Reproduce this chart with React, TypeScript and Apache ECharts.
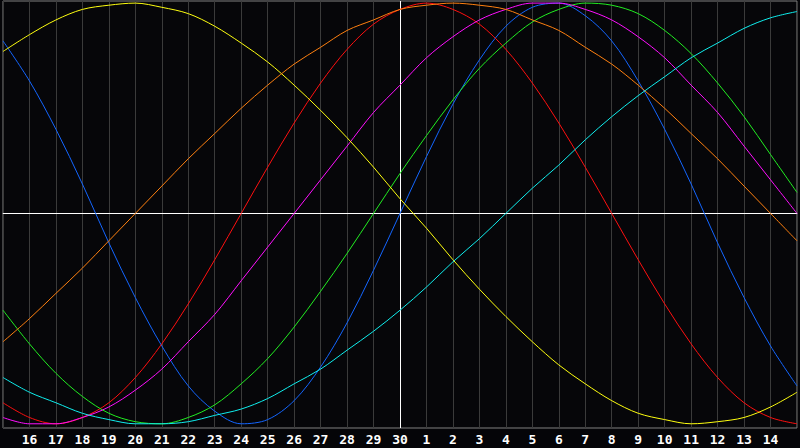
import React, { useEffect, useRef } from "react";
import * as echarts from "echarts";

// day labels under each grid line (index 0 and 30 sit on the frame edges, not shown)
const dayLabels = [
  "15", "16", "17", "18", "19", "20", "21", "22", "23", "24", "25", "26", "27", "28", "29", "30",
  "1", "2", "3", "4", "5", "6", "7", "8", "9", "10", "11", "12", "13", "14", "15",
];

// values, one per day (-1 .. 1)
const blue = [
  0.82, 0.63, 0.4, 0.14, -0.14, -0.4, -0.63, -0.82, -0.94, -1.0, -0.98, -0.89, -0.73, -0.52, -0.27,
  0, 0.27, 0.52, 0.73, 0.89, 0.98, 1.0, 0.94, 0.82, 0.63, 0.4, 0.14, -0.14, -0.4, -0.63, -0.82,
];
const red = [
  -0.9, -0.97, -1.0, -0.97, -0.9, -0.78, -0.62, -0.43, -0.22, 0, 0.22, 0.43, 0.62, 0.78, 0.9,
  0.97, 1.0, 0.97, 0.9, 0.78, 0.62, 0.43, 0.22, 0, -0.22, -0.43, -0.62, -0.78, -0.9, -0.97, -1.0,
];
const green = [
  -0.46, -0.62, -0.76, -0.87, -0.95, -0.99, -1.0, -0.97, -0.91, -0.81, -0.69, -0.54, -0.37, -0.19, 0,
  0.19, 0.37, 0.54, 0.69, 0.81, 0.91, 0.97, 1.0, 0.99, 0.95, 0.87, 0.76, 0.62, 0.46, 0.28, 0.1,
];
const magenta = [
  -0.97, -1.0, -1.0, -0.97, -0.92, -0.84, -0.74, -0.61, -0.48, -0.32, -0.16, 0, 0.16, 0.32, 0.48,
  0.61, 0.74, 0.84, 0.92, 0.97, 1.0, 1.0, 0.97, 0.92, 0.84, 0.74, 0.61, 0.48, 0.32, 0.16, 0,
];
const yellow = [
  0.77, 0.85, 0.92, 0.97, 0.99, 1.0, 0.98, 0.95, 0.89, 0.81, 0.72, 0.61, 0.49, 0.36, 0.22,
  0.07, -0.07, -0.22, -0.36, -0.49, -0.61, -0.72, -0.81, -0.89, -0.95, -0.98, -1.0, -0.99, -0.97, -0.92, -0.85,
];
const orange = [
  -0.61, -0.5, -0.38, -0.26, -0.13, 0, 0.13, 0.26, 0.38, 0.5, 0.61, 0.71, 0.79, 0.87, 0.92,
  0.97, 0.99, 1.0, 0.99, 0.97, 0.92, 0.87, 0.79, 0.71, 0.61, 0.5, 0.38, 0.26, 0.13, 0, -0.13,
];
const cyan = [
  -0.78, -0.85, -0.9, -0.95, -0.98, -1.0, -1.0, -0.99, -0.96, -0.93, -0.88, -0.81, -0.74, -0.65, -0.56,
  -0.46, -0.35, -0.23, -0.12, 0, 0.12, 0.23, 0.35, 0.46, 0.56, 0.65, 0.74, 0.81, 0.88, 0.93, 0.96,
];

const curves: { name: string; color: string; values: number[] }[] = [
  { name: "blue", color: "#1466ff", values: blue },
  { name: "red", color: "#ff1010", values: red },
  { name: "green", color: "#22ee22", values: green },
  { name: "magenta", color: "#ff10ff", values: magenta },
  { name: "yellow", color: "#ffff10", values: yellow },
  { name: "orange", color: "#ff8010", values: orange },
  { name: "cyan", color: "#10eeee", values: cyan },
];

export default function App() {
  const chartRef = useRef<HTMLDivElement>(null);

  useEffect(() => {
    if (!chartRef.current) return;
    const chart = echarts.init(chartRef.current, undefined, { renderer: "svg" });

    const series: any[] = curves.map((c, idx) => ({
      name: c.name,
      type: "line",
      smooth: 0.33,
      showSymbol: false,
      symbol: "none",
      z: 3,
      lineStyle: { color: c.color, width: 1 },
      data: c.values.map((v, i) => [i, v]),
      markLine:
        idx === 0
          ? {
              silent: true,
              symbol: "none",
              z: 2,
              label: { show: false },
              lineStyle: { color: "#ffffff", width: 1, type: "solid" },
              data: [{ yAxis: 0 }, { xAxis: 15 }],
            }
          : undefined,
    }));

    chart.setOption({
      animation: false,
      backgroundColor: "#050508",
      grid: {
        left: 1,
        right: 0,
        top: 1,
        bottom: 20,
        show: true,
        borderColor: "#808080",
        borderWidth: 1,
        backgroundColor: "#060609",
      },
      xAxis: {
        type: "value",
        min: 0,
        max: 30,
        interval: 1,
        axisLine: { show: true, lineStyle: { color: "#a8a8a8", width: 1 } },
        axisTick: { show: false },
        splitLine: { show: true, lineStyle: { color: "#3a3a3a", width: 1 } },
        axisLabel: {
          color: "#ffffff",
          fontWeight: "bold",
          fontFamily: "DejaVu Sans Mono",
          fontSize: 13,
          margin: 5,
          formatter: (v: number) => (v > 0 && v < 30 ? dayLabels[v] : ""),
        },
      },
      yAxis: {
        type: "value",
        min: -1.02,
        max: 1.01,
        axisLine: { show: false },
        axisTick: { show: false },
        axisLabel: { show: false },
        splitLine: { show: false },
      },
      series,
    });

    return () => {
      chart.dispose();
    };
  }, []);

  return (
    <div
      ref={chartRef}
      style={{ position: "fixed", left: 0, top: 0, width: 800, height: 448, background: "#050508" }}
    />
  );
}
